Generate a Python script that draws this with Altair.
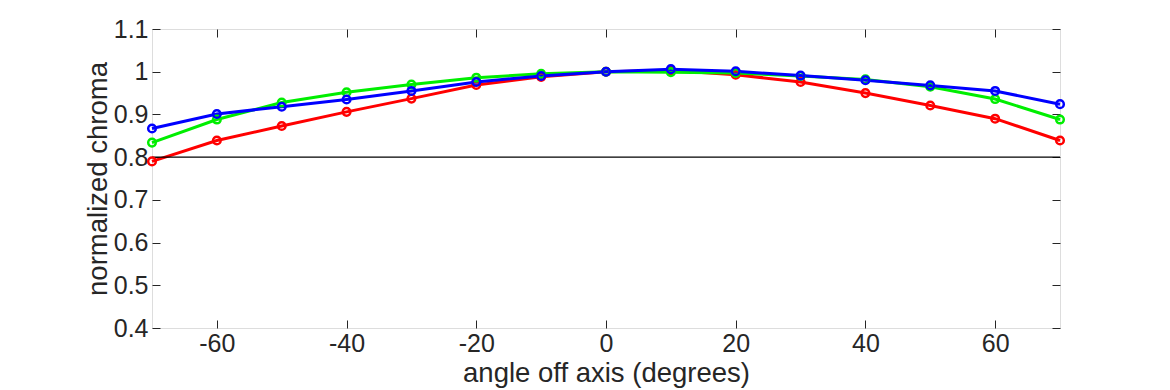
import altair as alt
import pandas as pd

angles = [-70, -60, -50, -40, -30, -20, -10, 0, 10, 20, 30, 40, 50, 60, 70]
red = [0.790, 0.839, 0.873, 0.906, 0.937, 0.969, 0.988, 1.000, 1.003, 0.993, 0.976, 0.950, 0.921, 0.890, 0.839]
green = [0.834, 0.888, 0.928, 0.952, 0.970, 0.986, 0.995, 1.000, 0.999, 0.997, 0.990, 0.982, 0.965, 0.936, 0.888]
blue = [0.867, 0.901, 0.918, 0.935, 0.955, 0.976, 0.990, 1.000, 1.006, 1.001, 0.991, 0.980, 0.968, 0.955, 0.924]
series = ["red", "green", "blue"]
colors = ["#ff0000", "#00ee00", "#0000ff"]
x_ticks = [-60, -40, -20, 0, 20, 40, 60]
y_ticks = [0.4, 0.5, 0.6, 0.7, 0.8, 0.9, 1.0, 1.1]
threshold = 0.8

rows = []
for name, vals in zip(series, [red, green, blue]):
    for a, v in zip(angles, vals):
        rows.append({"angle": a, "chroma": v, "series": name, "order": series.index(name)})
df = pd.DataFrame(rows)

W, H = 908, 299
FONT = "Liberation Sans"
TXT = "#262626"

xs = alt.Scale(domain=[-70, 70], nice=False, zero=False)
ys = alt.Scale(domain=[0.4, 1.1], nice=False, zero=False)
cs = alt.Scale(domain=series, range=colors)

ytick_fmt = "datum.value == 1 ? '1' : format(datum.value, '.1f')"
xtick_fmt = "datum.value < 0 ? '-' + format(-datum.value, 'd') : format(datum.value, 'd')"

main_x = alt.X("angle:Q", scale=xs, axis=alt.Axis(values=x_ticks, ticks=False, domain=False, grid=False,
               title="angle off axis (degrees)", labelExpr=xtick_fmt, labelPadding=3, titlePadding=3,
               labelFontSize=25, titleFontSize=27.5, labelFont=FONT, titleFont=FONT, labelColor=TXT,
               titleColor=TXT, titleFontWeight="normal"))
main_y = alt.Y("chroma:Q", scale=ys, axis=alt.Axis(values=y_ticks, ticks=False, domain=False, grid=False,
               title="normalized chroma", labelExpr=ytick_fmt, labelPadding=4, titlePadding=1,
               labelFontSize=25, titleFontSize=27.5, labelFont=FONT, titleFont=FONT, labelColor=TXT,
               titleColor=TXT, titleFontWeight="normal"))

base = alt.Chart(df)

lines = base.mark_line(strokeWidth=3).encode(
    x=main_x, y=main_y,
    color=alt.Color("series:N", scale=cs, legend=None),
    detail="series:N",
    order=alt.Order("order:Q"),
)
points = base.mark_point(shape="circle", filled=False, size=58, strokeWidth=2.5, opacity=1).encode(
    x=alt.X("angle:Q", scale=xs, axis=None),
    y=alt.Y("chroma:Q", scale=ys, axis=None),
    color=alt.Color("series:N", scale=cs, legend=None),
    order=alt.Order("order:Q"),
)

rule = alt.Chart(pd.DataFrame({"y": [threshold]})).mark_rule(color="black", strokeWidth=1.2).encode(
    y=alt.Y("y:Q", scale=ys, axis=None)
)

tick_style = dict(labels=False, domain=False, grid=False, title=None, tickSize=8, tickColor=TXT, tickWidth=1)

ticks_a = base.mark_point(opacity=0).encode(
    x=alt.X("angle:Q", scale=xs, axis=alt.Axis(orient="top", offset=-H, values=x_ticks, **tick_style)),
    y=alt.Y("chroma:Q", scale=ys, axis=alt.Axis(orient="right", offset=-W, values=y_ticks, **tick_style)),
)
ticks_b = base.mark_point(opacity=0).encode(
    x=alt.X("angle:Q", scale=xs, axis=alt.Axis(orient="bottom", offset=-H, values=x_ticks, **tick_style)),
    y=alt.Y("chroma:Q", scale=ys, axis=alt.Axis(orient="left", offset=-W, values=y_ticks, **tick_style)),
)

chart = alt.layer(lines, ticks_a, ticks_b, rule, points).resolve_axis(x="independent", y="independent").properties(
    width=W, height=H,
    autosize=alt.AutoSizeParams(type="none"),
    padding={"left": 144, "top": 21, "right": 102, "bottom": 62},
).configure_view(stroke=TXT, strokeWidth=1).configure(background="white")

chart.save("out.html", embed_options={"renderer": "svg", "actions": False})
